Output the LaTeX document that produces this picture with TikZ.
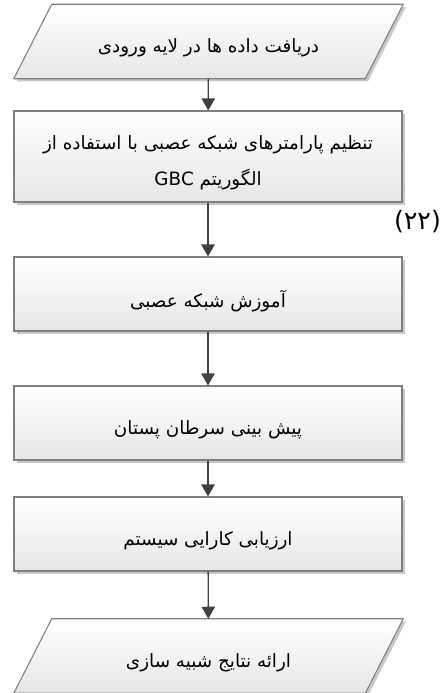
\documentclass[tikz,border=0pt]{standalone}
\usepackage{fontspec}
\usetikzlibrary{arrows.meta,backgrounds,shadows}
\TeXXeTstate=1
\newfontfamily\arabicfont[Script=Arabic]{DejaVu Sans}
\definecolor{boxgray}{HTML}{7F7F7F}
\definecolor{arrowgray}{HTML}{404040}
\definecolor{fillgray}{HTML}{E6E6E6}
\definecolor{shadowgray}{HTML}{C8C8C8}

% right-to-left text, set a little below the middle of its box
\newcommand{\rtl}[1]{\raisebox{-5pt}[\height][\depth]{\beginR #1\endR}}

\tikzset{
  boxlook/.style={draw=boxgray, line width=0.8pt,
    top color=white, bottom color=fillgray,
    drop shadow={shadow xshift=2pt, shadow yshift=-2pt, fill=shadowgray, opacity=1}},
  flowbox/.style={rectangle, boxlook,
    minimum width=291pt, minimum height=55.5pt, align=center,
    font=\arabicfont\fontsize{13.75}{27}\selectfont},
  iotext/.style={rectangle, minimum width=263.25pt, minimum height=55.5pt, align=center,
    font=\arabicfont\fontsize{13.75}{27}\selectfont},
  flowarrow/.style={arrowgray, line width=1pt, -{Triangle[width=10pt,length=9pt]}}
}

% slanted input/output box round a text node
\newcommand{\ioshape}[1]{%
  \draw[boxlook] ([xshift=-14.25pt]#1.south west) -- ([xshift=-14.25pt]#1.south east)
    -- ([xshift=14.25pt]#1.north east) -- ([xshift=14.25pt]#1.north west) -- cycle;}

\begin{document}
\begin{tikzpicture}[x=0.75pt, y=-0.75pt]
  \useasboundingbox (0,0) rectangle (443,693);

  \node[iotext] (input) at (208.5,41.5) {\rtl{دریافت داده ها در لایه ورودی}};
  \node[flowbox, minimum height=68.25pt] (tune) at (208,156.5)
    {\rtl{تنظیم پارامترهای شبکه عصبی با استفاده از}\\\rtl{الگوریتم \beginL GBC\endL}};
  \node[flowbox] (train) at (208,294) {\rtl{آموزش شبکه عصبی}};
  \node[flowbox] (predict) at (208,423) {\rtl{پیش بینی سرطان پستان}};
  \node[flowbox] (evaluate) at (208,534) {\rtl{ارزیابی کارایی سیستم}};
  \node[iotext] (output) at (208.5,656) {\rtl{ارائه نتایج شبیه سازی}};

  \begin{scope}[on background layer]
    \ioshape{input}
    \ioshape{output}
  \end{scope}

  \node[font=\arabicfont\fontsize{19}{22}\selectfont] (eqno) at (417.5,221.5) {(۲۲)};

  \draw[flowarrow] (input) -- (tune);
  \draw[flowarrow] (tune) -- (train);
  \draw[flowarrow] (train) -- (predict);
  \draw[flowarrow] (predict) -- (evaluate);
  \draw[flowarrow] (evaluate) -- (output);
\end{tikzpicture}
\end{document}
